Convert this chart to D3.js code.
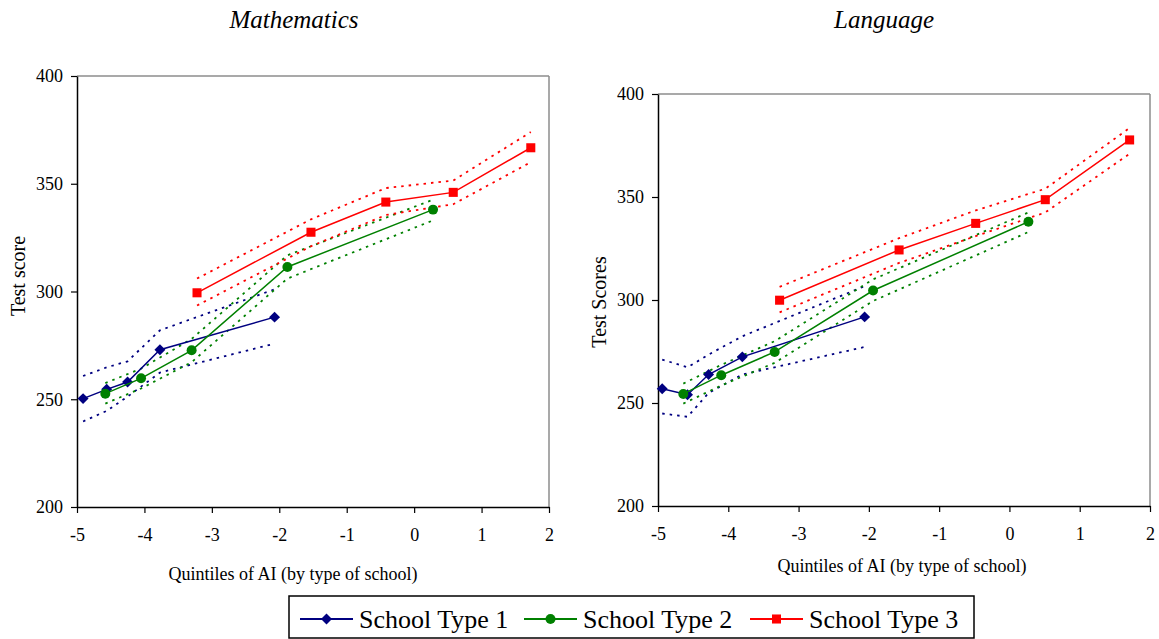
<!DOCTYPE html>
<html>
<head>
<meta charset="utf-8">
<script src="https://cdn.jsdelivr.net/npm/d3@7"></script>
<style>body { margin: 0; background: white; }</style>
</head>
<body>
<script>
// ---- data ----
const seriesNames = ["School Type 1", "School Type 2", "School Type 3"]
const xTicks = [-5, -4, -3, -2, -1, 0, 1, 2]
const yTicks = [200, 250, 300, 350, 400]

// Mathematics: AI quintile means, test score, upper and lower band
const mathAI = [
    [-4.91, -4.56, -4.25, -3.77, -2.07],
    [-4.58, -4.05, -3.30, -1.88, 0.28],
    [-3.22, -1.53, -0.42, 0.58, 1.73]
]
const mathScore = [
    [250.3, 254.6, 258.0, 273.0, 288.1],
    [252.6, 259.7, 272.7, 311.4, 338.0],
    [299.4, 327.5, 341.5, 346.0, 366.7]
]
const mathUpper = [
    [260.8, 264.8, 267.6, 282.0, 301.0],
    [257.5, 264.2, 278.0, 316.8, 342.6],
    [306.0, 333.5, 348.0, 351.5, 374.0]
]
const mathLower = [
    [239.7, 244.6, 251.2, 262.4, 275.8],
    [248.0, 255.0, 267.2, 306.0, 333.0],
    [293.5, 321.0, 335.5, 340.5, 360.0]
]

// Language
const langAI = [
    [-4.94, -4.58, -4.28, -3.80, -2.06],
    [-4.64, -4.10, -3.34, -1.94, 0.27],
    [-3.27, -1.57, -0.48, 0.51, 1.71]
]
const langScore = [
    [256.9, 254.0, 263.8, 272.4, 291.8],
    [254.4, 263.5, 274.8, 304.6, 338.0],
    [299.9, 324.3, 337.2, 348.7, 377.7]
]
const langUpper = [
    [271.1, 267.3, 273.5, 282.4, 306.7],
    [259.4, 268.5, 280.0, 310.0, 342.5],
    [306.4, 330.0, 343.5, 354.0, 383.5]
]
const langLower = [
    [244.9, 243.3, 254.9, 263.8, 277.2],
    [249.7, 258.5, 269.5, 299.5, 333.0],
    [294.0, 318.0, 331.0, 342.5, 371.0]
]

// ---- styles ----
const colors = ["#000080", "#008000", "#ff0000"]
const symbols = [d3.symbolSquare, d3.symbolCircle, d3.symbolSquare]
const symbolSizes = [60, 78, 82]
const symbolRotate = [45, 0, 0]
const serif = "'Liberation Serif', 'Times New Roman', serif"

let svgContainer = d3.select("body").append("svg")
                                    .attr("width", 1159)
                                    .attr("height", 639)

svgContainer.append('rect')
            .attr('width', '100%')
            .attr('height', '100%')
            .attr('fill', 'white')

drawPanel({
    title: "Mathematics", yLabel: "Test score",
    left: 77, right: 549, top: 76, bottom: 507,
    titleX: 294, xLabelX: 293, xLabelY: 580, yLabelX: 25, yLabelY: 276
}, mathAI, mathScore, mathUpper, mathLower)

drawPanel({
    title: "Language", yLabel: "Test Scores",
    left: 658, right: 1150, top: 94, bottom: 506,
    titleX: 884, xLabelX: 902, xLabelY: 572, yLabelX: 606, yLabelY: 302
}, langAI, langScore, langUpper, langLower)

drawLegend()

function marker(i) {
    return d3.symbol().type(symbols[i]).size(symbolSizes[i])()
}

function drawPanel(p, ai, score, upper, lower) {
    let x = d3.scaleLinear().domain([-5, 2]).range([p.left, p.right])
    let y = d3.scaleLinear().domain([200, 400]).range([p.bottom, p.top])
    let group = svgContainer.append('g')

    // grey frame on top and right
    group.append('line')
         .attr('x1', p.left).attr('x2', p.right)
         .attr('y1', p.top).attr('y2', p.top)
         .attr('stroke', '#8c8c8c').attr('stroke-width', 1.5)
    group.append('line')
         .attr('x1', p.right).attr('x2', p.right)
         .attr('y1', p.top).attr('y2', p.bottom)
         .attr('stroke', '#8c8c8c').attr('stroke-width', 1.5)

    let yAxis = group.append('g')
                     .attr('transform', `translate(${p.left},0)`)
                     .call(d3.axisLeft(y).tickValues(yTicks).tickSize(6).tickSizeOuter(0)
                             .tickPadding(8).tickFormat(d => String(d)))
    let xAxis = group.append('g')
                     .attr('transform', `translate(0,${p.bottom})`)
                     .call(d3.axisBottom(x).tickValues(xTicks).tickSize(6).tickSizeOuter(0)
                             .tickPadding(15).tickFormat(d => String(d)))

    for (let axis of [xAxis, yAxis]) {
        axis.attr('font-family', serif).attr('font-size', 18)
        axis.select('.domain').attr('stroke', 'black').attr('stroke-width', 1.5)
        axis.selectAll('.tick line').attr('stroke', 'black').attr('stroke-width', 1.2)
        axis.selectAll('.tick text').attr('fill', 'black')
    }

    // titles
    group.append('text')
         .attr('x', p.titleX).attr('y', 28)
         .attr('text-anchor', 'middle')
         .attr('font-family', serif).attr('font-style', 'italic').attr('font-size', 25)
         .text(p.title)
    group.append('text')
         .attr('x', p.xLabelX).attr('y', p.xLabelY)
         .attr('text-anchor', 'middle')
         .attr('font-family', serif).attr('font-size', 18)
         .text("Quintiles of AI (by type of school)")
    group.append('text')
         .attr('transform', `translate(${p.yLabelX},${p.yLabelY}) rotate(-90)`)
         .attr('text-anchor', 'middle')
         .attr('font-family', serif).attr('font-size', 20)
         .text(p.yLabel)

    // confidence bands (dotted)
    for (let i = 0; i < ai.length; i++) {
        for (let band of [upper[i], lower[i]]) {
            let line = d3.line()
                         .x((d, j) => x(ai[i][j]))
                         .y(d => y(d))
            group.append('path')
                 .attr('d', line(band))
                 .attr('fill', 'none')
                 .attr('stroke', colors[i])
                 .attr('stroke-width', 1.8)
                 .attr('stroke-dasharray', '2.5,5')
        }
    }

    // mean lines and markers
    for (let i = 0; i < ai.length; i++) {
        let line = d3.line()
                     .x((d, j) => x(ai[i][j]))
                     .y(d => y(d))
        group.append('path')
             .attr('d', line(score[i]))
             .attr('fill', 'none')
             .attr('stroke', colors[i])
             .attr('stroke-width', 1.5)

        group.selectAll(null)
             .data(score[i])
             .enter()
             .append('path')
             .attr('d', marker(i))
             .attr('transform', (d, j) => `translate(${x(ai[i][j])},${y(d)}) rotate(${symbolRotate[i]})`)
             .attr('fill', colors[i])
    }
}

function drawLegend() {
    let group = svgContainer.append('g')
    group.append('rect')
         .attr('x', 289).attr('y', 596)
         .attr('width', 685).attr('height', 42)
         .attr('fill', 'white')
         .attr('stroke', 'black')
         .attr('stroke-width', 1.5)

    let itemX = [300, 524, 750]
    for (let i = 0; i < seriesNames.length; i++) {
        let lx = itemX[i]
        group.append('line')
             .attr('x1', lx).attr('x2', lx + 53)
             .attr('y1', 619).attr('y2', 619)
             .attr('stroke', colors[i]).attr('stroke-width', 1.8)
        group.append('path')
             .attr('d', marker(i))
             .attr('transform', `translate(${lx + 26.5},619) rotate(${symbolRotate[i]})`)
             .attr('fill', colors[i])
        group.append('text')
             .attr('x', lx + 59).attr('y', 628)
             .attr('font-family', serif).attr('font-size', 26)
             .text(seriesNames[i])
    }
}
</script>
</body>
</html>
